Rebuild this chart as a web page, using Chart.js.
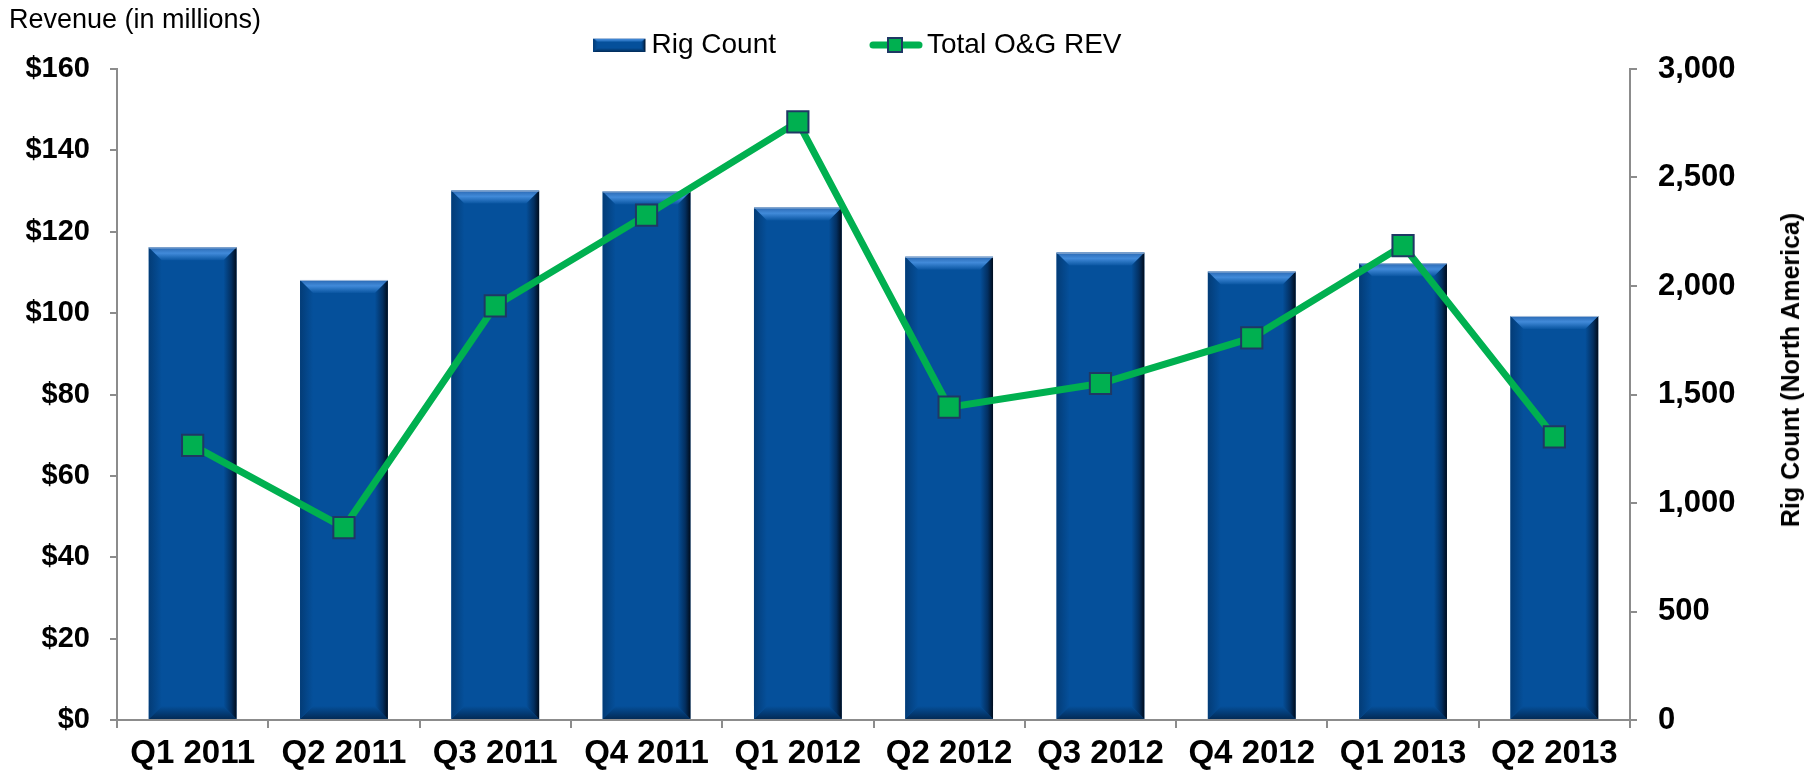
<!DOCTYPE html>
<html>
<head>
<meta charset="utf-8">
<title>Rig Count vs Total O&amp;G Revenue</title>
<script src="https://cdn.jsdelivr.net/npm/chart.js@4.4.1/dist/chart.umd.min.js"></script>
<style>
  body { margin: 0; background: #fff; }
  #wrap { position: relative; width: 1814px; height: 771px; }
  #chart { position: absolute; left: 0; top: 0; }
  .note { position: absolute; font-family: 'Liberation Sans', Arial, sans-serif; color: #000; white-space: nowrap; line-height: 30px; }
  #revTitle { left: 9px; top: 4px; font-size: 27px; }
  #rigTitle { left: 1790px; top: 370px; font-size: 25px; font-weight: bold; transform: translate(-50%, -50%) rotate(-90deg); }
</style>
</head>
<body>
<div id="wrap">
  <canvas id="chart" width="1814" height="771"></canvas>
  <div class="note" id="revTitle">Revenue (in millions)</div>
  <div class="note" id="rigTitle">Rig Count (North America)</div>
</div>
<script>
// quarterly data
const quarters = ['Q1 2011', 'Q2 2011', 'Q3 2011', 'Q4 2011', 'Q1 2012',
                  'Q2 2012', 'Q3 2012', 'Q4 2012', 'Q1 2013', 'Q2 2013'];
const rigCount = [2178, 2028, 2440, 2436, 2362, 2135, 2154, 2067, 2105, 1862];
const revenue = [67.5, 47.3, 101.8, 124.1, 147.0, 76.9, 82.7, 93.9, 116.6, 69.6];

// axis ranges
const revenueMax = 160, revenueStep = 20;
const rigMax = 3000, rigStep = 500;

const BAR_BLUE = '#05509b';
const LINE_GREEN = '#00b050';
const MARKER_EDGE = '#1f3864';
const AXIS_GREY = '#8c8c8c';
const FONT = "'Liberation Sans', Arial, sans-serif";

function poly(ctx, pts, fill) {
  ctx.beginPath();
  ctx.moveTo(pts[0][0], pts[0][1]);
  for (let i = 1; i < pts.length; i++) ctx.lineTo(pts[i][0], pts[i][1]);
  ctx.closePath();
  ctx.fillStyle = fill;
  ctx.fill();
}

// beveled edges on top of a plain bar rectangle
function drawBevel(ctx, l, t, w, h, b) {
  const r = l + w, btm = t + h;
  b = Math.min(b, w / 2, h / 2);
  ctx.save();
  let g = ctx.createLinearGradient(0, btm - b, 0, btm);
  g.addColorStop(0, BAR_BLUE);
  g.addColorStop(1, '#022b57');
  poly(ctx, [[l, btm], [r, btm], [r - b, btm - b], [l + b, btm - b]], g);

  g = ctx.createLinearGradient(l, 0, l + b, 0);
  g.addColorStop(0, '#033c77');
  g.addColorStop(1, BAR_BLUE);
  poly(ctx, [[l, t], [l + b, t + b], [l + b, btm - b], [l, btm]], g);

  g = ctx.createLinearGradient(r - b, 0, r, 0);
  g.addColorStop(0, BAR_BLUE);
  g.addColorStop(0.6, '#032f60');
  g.addColorStop(1, '#000c1c');
  poly(ctx, [[r, t], [r, btm], [r - b, btm - b], [r - b, t + b]], g);

  g = ctx.createLinearGradient(0, t, 0, t + b);
  g.addColorStop(0, '#2a68b2');
  g.addColorStop(0.45, '#418ad9');
  g.addColorStop(1, '#0a56a2');
  poly(ctx, [[l, t], [r, t], [r - b, t + b], [l + b, t + b]], g);

  ctx.fillStyle = '#a7bfdc';
  ctx.fillRect(l, t, w, 1);
  ctx.restore();
}

const bevelPlugin = {
  id: 'bevel',
  afterDatasetDraw(chart, args) {
    if (args.index !== 0) return;
    const ctx = chart.ctx;
    args.meta.data.forEach(bar => {
      const p = bar.getProps(['x', 'y', 'base', 'width'], true);
      drawBevel(ctx, p.x - p.width / 2, p.y, p.width, p.base - p.y, 13);
    });
  }
};

// legend icons
function barIcon() {
  const c = document.createElement('canvas');
  c.width = 58; c.height = 16;
  const ctx = c.getContext('2d');
  ctx.fillStyle = BAR_BLUE;
  ctx.fillRect(0, 1, 52, 14);
  drawBevel(ctx, 0, 1, 52, 14, 4);
  return c;
}

function lineIcon() {
  const c = document.createElement('canvas');
  c.width = 58; c.height = 20;
  const ctx = c.getContext('2d');
  ctx.strokeStyle = LINE_GREEN;
  ctx.lineWidth = 7;
  ctx.lineCap = 'round';
  ctx.beginPath();
  ctx.moveTo(4, 10);
  ctx.lineTo(50, 10);
  ctx.stroke();
  ctx.fillStyle = LINE_GREEN;
  ctx.fillRect(19, 3, 14, 14);
  ctx.strokeStyle = MARKER_EDGE;
  ctx.lineWidth = 2;
  ctx.strokeRect(19, 3, 14, 14);
  return c;
}

const legendIcons = [barIcon(), lineIcon()];

const axisLine = { display: true, color: AXIS_GREY, width: 2 };
const tickGrid = { drawOnChartArea: false, drawTicks: true, tickLength: 7, color: AXIS_GREY, lineWidth: 2 };

new Chart(document.getElementById('chart'), {
  data: {
    labels: quarters,
    datasets: [
      {
        type: 'bar',
        label: 'Rig Count',
        data: rigCount,
        yAxisID: 'y1',
        backgroundColor: BAR_BLUE,
        borderWidth: 0,
        barPercentage: 0.58,
        categoryPercentage: 1,
        order: 2
      },
      {
        type: 'line',
        label: 'Total O&G REV',
        data: revenue,
        yAxisID: 'y',
        borderColor: LINE_GREEN,
        borderWidth: 7,
        tension: 0,
        pointStyle: 'rect',
        pointRadius: 15,
        pointHoverRadius: 15,
        pointBackgroundColor: LINE_GREEN,
        pointBorderColor: MARKER_EDGE,
        pointBorderWidth: 2,
        order: 1
      }
    ]
  },
  options: {
    responsive: false,
    animation: false,
    devicePixelRatio: 1,
    layout: { padding: { top: -76, left: -43, right: 42, bottom: 0 } },
    plugins: {
      tooltip: { enabled: false },
      legend: {
        position: 'top',
        labels: {
          usePointStyle: true,
          pointStyleWidth: 30,
          boxHeight: 14,
          padding: 107,
          color: '#000',
          font: { family: FONT, size: 28 },
          generateLabels: chart => chart.data.datasets.map((ds, i) => ({
            text: ds.label,
            pointStyle: legendIcons[i],
            fillStyle: 'transparent',
            strokeStyle: 'transparent',
            lineWidth: 0,
            hidden: false,
            datasetIndex: i,
            fontColor: '#000'
          }))
        }
      }
    },
    scales: {
      x: {
        offset: true,
        border: axisLine,
        grid: Object.assign({}, tickGrid, { offset: true, tickLength: 8 }),
        ticks: { color: '#000', padding: 6, maxRotation: 0, font: { family: FONT, size: 33, weight: 'bold' } },
        afterFit: s => { s.height = 51; }
      },
      y: {
        position: 'left',
        min: 0,
        max: revenueMax,
        border: axisLine,
        grid: tickGrid,
        ticks: {
          stepSize: revenueStep,
          color: '#000',
          padding: 20,
          font: { family: FONT, size: 29, weight: 'bold' },
          callback: v => '$' + v
        },
        afterFit: s => { s.width = 160; }
      },
      y1: {
        position: 'right',
        min: 0,
        max: rigMax,
        border: axisLine,
        grid: tickGrid,
        ticks: {
          stepSize: rigStep,
          color: '#000',
          padding: 21,
          font: { family: FONT, size: 31, weight: 'bold' },
          callback: v => v.toLocaleString('en-US')
        },
        afterFit: s => { s.width = 142; }
      }
    }
  },
  plugins: [bevelPlugin]
});
</script>
</body>
</html>
